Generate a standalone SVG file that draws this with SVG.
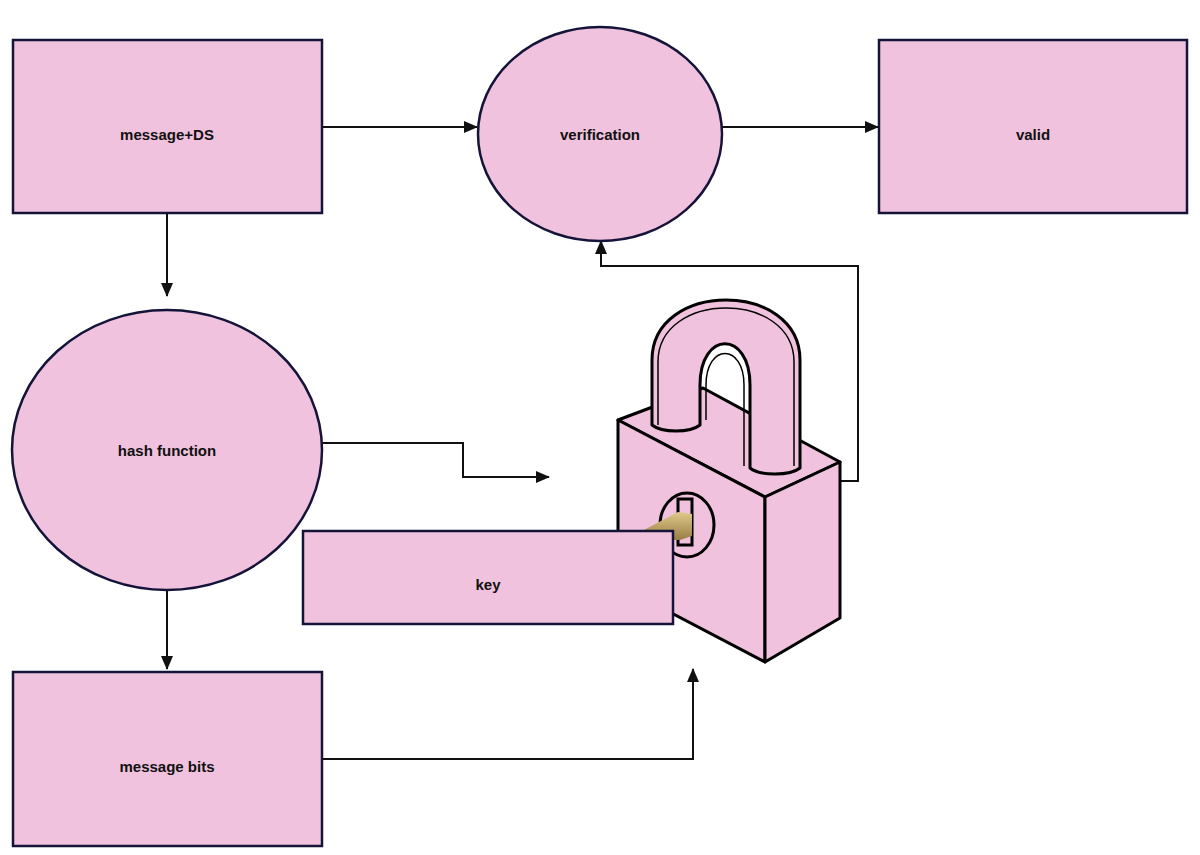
<svg xmlns="http://www.w3.org/2000/svg" width="1200" height="855" viewBox="0 0 1200 855">
<defs>
<marker id="a" markerWidth="14" markerHeight="12" refX="13" refY="6" orient="auto" markerUnits="userSpaceOnUse"><path d="M0,0 L14,6 L0,12 Z" fill="#111"/></marker>
<linearGradient id="g" x1="0" y1="0" x2="0" y2="1"><stop offset="0" stop-color="#e0c98a"/><stop offset="1" stop-color="#9a7d45"/></linearGradient>
</defs>
<style>
.n{fill:#f0c2dd;stroke:#14143a;stroke-width:2.5}
.t{font-family:"Liberation Sans",Arial,sans-serif;font-size:15px;font-weight:bold;fill:#111;text-anchor:middle}
.c{fill:none;stroke:#111;stroke-width:2;marker-end:url(#a)}
.l{fill:#f0c2dd;stroke:#000;stroke-width:3;stroke-linejoin:round}
</style>
<rect width="1200" height="855" fill="#fff"/>
<g id="connectors">
<path class="c" d="M322,127 H477"/>
<path class="c" d="M722,127 H878"/>
<path class="c" d="M167,213 V296"/>
<path class="c" d="M167,590 V669"/>
<path class="c" d="M322,443 H463 V477 H549"/>
<path class="c" d="M322,759 H693 V669"/>
<path class="c" d="M840,481 H858 V266 H601 V241"/>
</g>
<g id="message-ds"><rect class="n" x="13" y="40" width="309" height="173"/><text class="t" x="167" y="140">message+DS</text></g>
<g id="verification"><ellipse class="n" cx="600" cy="134" rx="122" ry="107"/><text class="t" x="600" y="140">verification</text></g>
<g id="valid"><rect class="n" x="879" y="40" width="308" height="173"/><text class="t" x="1033" y="140">valid</text></g>
<g id="hash-function"><ellipse class="n" cx="167" cy="450" rx="155" ry="140"/><text class="t" x="167" y="456">hash function</text></g>
<g id="message-bits"><rect class="n" x="13" y="672" width="309" height="174"/><text class="t" x="167" y="772">message bits</text></g>
<g id="padlock">
<path class="l" d="M618,420 L703,388 L840,462 L765,497 Z"/>
<path class="l" d="M618,420 L765,497 L765,662 L618,585 Z"/>
<path class="l" d="M765,497 L840,462 L840,618 L765,662 Z"/>
<path class="l" d="M652,425 L652,360 C652,280 800,280 800,360 L800,468 C790,476 760,476 750,468 L750,385 C750,330 700,330 700,385 L700,425 C690,433 662,433 652,425 Z"/>
<path d="M658,425 V362 C658,290 794,290 794,362 V466 M706,420 V385 C706,343 744,343 744,385 V466" fill="none" stroke="#000" stroke-width="1.5"/>
<ellipse cx="687" cy="525" rx="27" ry="32" fill="#f0c2dd" stroke="#000" stroke-width="3"/>
<rect x="678" y="499" width="14" height="46" fill="#f0c2dd" stroke="#000" stroke-width="3"/>
<path d="M640,532 L678,512 L692,514 L692,536 L680,540 L650,540 Z" fill="url(#g)"/>
</g>
<g id="key"><rect class="n" x="303" y="531" width="370" height="93"/><text class="t" x="488" y="590">key</text></g>
</svg>
